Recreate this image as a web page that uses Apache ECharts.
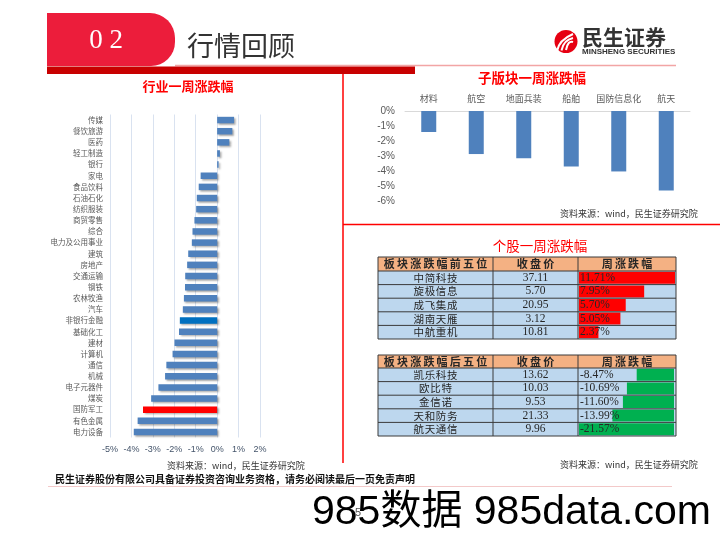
<!DOCTYPE html>
<html><head><meta charset="utf-8">
<script src="https://cdn.jsdelivr.net/npm/echarts@6/dist/echarts.min.js"></script>
<style>html,body{margin:0;padding:0;background:#fff}#c{width:720px;height:540px}</style>
</head><body><div id="c"></div>
<script>
// ---------------- data ----------------
const industries = ['传媒','餐饮旅游','医药','轻工制造','银行','家电','食品饮料','石油石化','纺织服装','商贸零售','综合','电力及公用事业','建筑','房地产','交通运输','钢铁','农林牧渔','汽车','非银行金融','基础化工','建材','计算机','通信','机械','电子元器件','煤炭','国防军工','有色金属','电力设备'];
const industryChange = [0.79,0.71,0.57,0.13,0.07,-0.77,-0.86,-0.95,-0.98,-1.06,-1.15,-1.18,-1.35,-1.40,-1.49,-1.50,-1.55,-1.60,-1.74,-1.78,-1.99,-2.08,-2.37,-2.43,-2.74,-3.08,-3.46,-3.71,-3.89];
const industryTicks = {min:-5, max:2, step:1};

const subSectors = ['材料','航空','地面兵装','船舶','国防信息化','航天'];
const subSectorChange = [-1.40,-2.87,-3.15,-3.70,-4.03,-5.30];
const subTicks = {min:-6, max:0, step:1};

const topHeaders = ['板块涨跌幅前五位','收盘价','周涨跌幅'];
const topStocks = ['中简科技','旋极信息','成飞集成','湖南天雁','中航重机'];
const topClose = ['37.11','5.70','20.95','3.12','10.81'];
const topChange = [11.71,7.95,5.70,5.05,2.37];

const bottomHeaders = ['板块涨跌幅后五位','收盘价','周涨跌幅'];
const bottomStocks = ['凯乐科技','欧比特','金信诺','天和防务','航天通信'];
const bottomClose = ['13.62','10.03','9.53','21.33','9.96'];
const bottomChange = [-8.47,-10.69,-11.60,-13.99,-21.57];

const highlight = {'非银行金融':'#0070C0','国防军工':'#FF0000'};

// ---------------- chart ----------------
const CJK = "'Noto Sans CJK SC', sans-serif";
const SERIF = "'Liberation Serif', serif";
const SANS = "'Liberation Sans', 'Noto Sans CJK SC', sans-serif";
const chart = echarts.init(document.getElementById('c'), null, {renderer:'canvas'});

const g = [];
// header tab
g.push({type:'rect', shape:{x:47,y:13,width:128,height:53,r:[0,25,24,0]}, style:{fill:'#EC1D3B'}, z:1});
g.push({type:'text', x:106, y:41, style:{text:'0 2', font:"300 27px 'Liberation Serif', serif", fill:'#fff', align:'center', verticalAlign:'middle'}, z:3});
g.push({type:'text', x:187, y:46, style:{text:'行情回顾', font:"27px "+CJK, fill:'#333', verticalAlign:'middle'}, z:3});
g.push({type:'line', shape:{x1:175,y1:65.5,x2:676,y2:65.5}, style:{stroke:'#F2A5A5', lineWidth:1.5}, z:1});
g.push({type:'rect', shape:{x:47,y:66.5,width:368,height:7.5}, style:{fill:'#C80000'}, z:1});
// logo
g.push({type:'circle', shape:{cx:566,cy:41.5,r:11.5}, style:{fill:'#E60012'}, z:1});
[0,1,2].forEach(i=>{
  g.push({type:'bezierCurve', shape:{x1:557+i*4.5,y1:51-i*0.5,cpx1:559+i*4.5,cpy1:40,x2:573,y2:34+i*4}, style:{stroke:'#fff', lineWidth:2, fill:null}, z:2});
});
g.push({type:'text', x:582, y:37, style:{text:'民生证券', font:"bold 21px "+CJK, fill:'#333', verticalAlign:'middle'}, z:2});
g.push({type:'text', x:582, y:51.5, style:{text:'MINSHENG SECURITIES', font:"bold 8px 'Liberation Sans', sans-serif", fill:'#333', verticalAlign:'middle'}, z:2});
// separators
g.push({type:'line', shape:{x1:343,y1:74,x2:343,y2:463}, style:{stroke:'#FF0000', lineWidth:1.5}, z:1});
g.push({type:'line', shape:{x1:343,y1:224.5,x2:720,y2:224.5}, style:{stroke:'#FF0000', lineWidth:1.5}, z:1});
// titles
g.push({type:'text', x:188, y:86, style:{text:'行业一周涨跌幅', font:"bold 13px "+CJK, fill:'#FF0000', align:'center', verticalAlign:'middle'}, z:2});
g.push({type:'text', x:532, y:78, style:{text:'子版块一周涨跌幅', font:"bold 13.5px "+CJK, fill:'#FF0000', align:'center', verticalAlign:'middle'}, z:2});
g.push({type:'text', x:540, y:246, style:{text:'个股一周涨跌幅', font:"13.5px "+CJK, fill:'#FF0000', align:'center', verticalAlign:'middle'}, z:2});
// sources
const src = '资料来源：wind，民生证券研究院';
[[167,466],[560,214],[560,465]].forEach(p=>{
  g.push({type:'text', x:p[0], y:p[1], style:{text:src, font:"9px "+CJK, fill:'#333', verticalAlign:'middle'}, z:2});
});
// footer
g.push({type:'text', x:55, y:479, style:{text:'民生证券股份有限公司具备证券投资咨询业务资格，请务必阅读最后一页免责声明', font:"bold 10px "+CJK, fill:'#111', verticalAlign:'middle'}, z:2});
g.push({type:'line', shape:{x1:48,y1:486.5,x2:672,y2:486.5}, style:{stroke:'#F3C9C9', lineWidth:1}, z:1});
g.push({type:'text', x:312, y:513, style:{text:'985数据 985data.com', font:"41px "+SANS, fill:'#000', verticalAlign:'middle'}, z:2});
g.push({type:'text', x:355, y:513, style:{text:'5', font:"11px "+SANS, fill:'#555', verticalAlign:'middle'}, z:3});

// tables
const colX = [378, 493, 578, 676];
function table(top, headerH, rowH, headers, names, closes, changes) {
  const n = names.length, W = colX[3]-colX[0], bottom = top+headerH+rowH*n;
  g.push({type:'rect', shape:{x:colX[0],y:top,width:W,height:headerH}, style:{fill:'#F4B183'}, z:0});
  g.push({type:'rect', shape:{x:colX[0],y:top+headerH,width:W,height:rowH*n}, style:{fill:'#BDD7EE'}, z:0});
  for (let i=0;i<=n+1;i++){
    const y = i===0 ? top : top+headerH+(i-1)*rowH;
    g.push({type:'line', shape:{x1:colX[0],y1:y,x2:colX[3],y2:y}, style:{stroke:'#3A3A3A', lineWidth:1}, z:20});
  }
  colX.forEach(x=>g.push({type:'line', shape:{x1:x,y1:top,x2:x,y2:bottom}, style:{stroke:'#3A3A3A', lineWidth:1}, z:20}));
  headers.forEach((h,j)=>{
    g.push({type:'text', x:(colX[j]+colX[j+1])/2, y:top+headerH/2, style:{text:h.split('').join('\u2009'), font:"bold 11px "+CJK, fill:'#262626', align:'center', verticalAlign:'middle'}, z:21});
  });
  names.forEach((nm,i)=>{
    const cy = top+headerH+rowH*(i+0.5);
    g.push({type:'text', x:(colX[0]+colX[1])/2, y:cy, style:{text:nm.split('').join('\u200A'), font:"10.5px "+CJK, fill:'#262626', align:'center', verticalAlign:'middle'}, z:21});
    g.push({type:'text', x:(colX[1]+colX[2])/2, y:cy, style:{text:closes[i], font:"11.5px "+SERIF, fill:'#262626', align:'center', verticalAlign:'middle'}, z:21});
    g.push({type:'text', x:colX[2]+2, y:cy, style:{text:changes[i].toFixed(2)+'%', font:"11.5px "+SERIF, fill:'#262626', verticalAlign:'middle'}, z:21});
  });
}
table(257, 14, 13.6, topHeaders, topStocks, topClose, topChange);
table(355, 13, 13.6, bottomHeaders, bottomStocks, bottomClose, bottomChange);

const pct = v => v + '%';
const option = {
  animation:false,
  backgroundColor:'#fff',
  textStyle:{fontFamily:CJK},
  grid:[
    {left:110, top:114.5, width:150, height:323},
    {left:405, top:111, width:285, height:90},
    {left:579, top:271, width:96, height:68},
    {left:579, top:368, width:95, height:68}
  ],
  xAxis:[
    {gridIndex:0, type:'value', min:industryTicks.min, max:industryTicks.max, interval:industryTicks.step,
      axisLine:{show:false}, axisTick:{show:false},
      axisLabel:{formatter:pct, color:'#44546A', fontSize:9, margin:8, fontFamily:SANS},
      splitLine:{lineStyle:{color:'#D9E2F0'}}},
    {gridIndex:1, type:'category', data:subSectors, position:'top',
      axisLine:{lineStyle:{color:'#D9D9D9'}}, axisTick:{show:false},
      axisLabel:{color:'#595959', fontSize:9, margin:8, interval:0}},
    {gridIndex:2, type:'value', min:0, max:Math.max(...topChange), show:false},
    {gridIndex:3, type:'value', min:Math.min(...bottomChange), max:0, show:false}
  ],
  yAxis:[
    {gridIndex:0, type:'category', data:industries, inverse:true,
      axisLine:{show:false}, axisTick:{show:false},
      axisLabel:{fontSize:7.5, color:'#595959', margin:7, interval:0}},
    {gridIndex:1, type:'value', min:subTicks.min, max:subTicks.max, interval:subTicks.step,
      axisLine:{show:false}, axisTick:{show:false}, splitLine:{show:false},
      axisLabel:{formatter:pct, color:'#595959', fontSize:10, margin:10, fontFamily:SANS}},
    {gridIndex:2, type:'category', data:topStocks, inverse:true, show:false},
    {gridIndex:3, type:'category', data:bottomStocks, inverse:true, show:false}
  ],
  series:[
    {type:'bar', xAxisIndex:0, yAxisIndex:0, barWidth:6.5,
      data:industryChange.map((v,i)=>({value:v, itemStyle:{color:highlight[industries[i]]||'#4F81BD'}})),
      itemStyle:{shadowColor:'rgba(0,0,0,0.35)', shadowBlur:2, shadowOffsetX:1.5, shadowOffsetY:1.5}},
    {type:'bar', xAxisIndex:1, yAxisIndex:1, barWidth:15, data:subSectorChange, itemStyle:{color:'#4F81BD'}},
    {type:'bar', xAxisIndex:2, yAxisIndex:2, barWidth:12, data:topChange, itemStyle:{color:'#FF0000'}},
    {type:'bar', xAxisIndex:3, yAxisIndex:3, barWidth:12, data:bottomChange, itemStyle:{color:'#00B050'}}
  ],
  graphic:{elements:g}
};
chart.setOption(option);
</script>
</body></html>
